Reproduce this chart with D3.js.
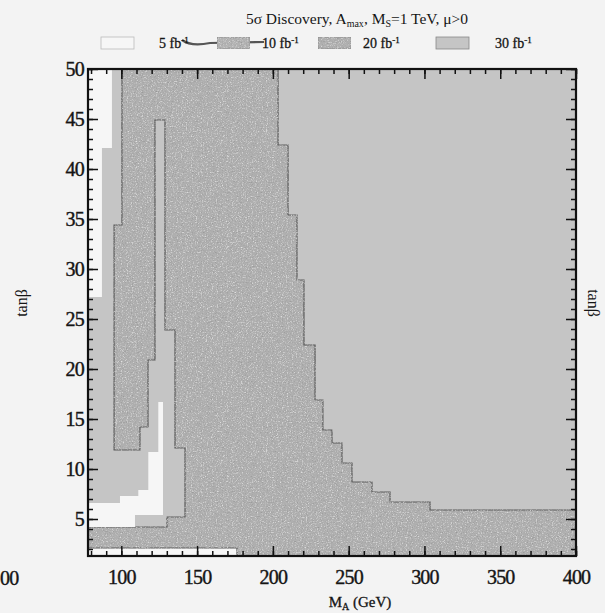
<!DOCTYPE html>
<html>
<head>
<meta charset="utf-8">
<script src="https://cdn.jsdelivr.net/npm/d3@7"></script>
<style>
  body { margin: 0; background: #f3f3f3; }
  svg { display: block; }
  text { font-family: "Liberation Serif", "DejaVu Serif", serif; fill: #151515; }
</style>
</head>
<body>
<div id="chart"></div>
<script>
// axis ranges and ticks
const xDomain = [78, 400];
const yDomain = [1.3, 50];
const xMajor = [100, 150, 200, 250, 300, 350, 400];
const yMajor = [5, 10, 15, 20, 25, 30, 35, 40, 45, 50];

// legend
const lumiLabels = ["5", "10", "20", "30"];
const lumiFill = ["#f6f6f6", "#b2b2b2", "#afafaf", "#c5c5c5"];

// discovery regions, [M_A (GeV), tanβ] outlines
const reach30 = [[78, 27.2], [87.2, 27.2], [87.2, 42.1], [93.8, 42.1], [93.8, 50], [400, 50],
  [400, 1.3], [176.3, 1.3], [176.3, 2.1], [78, 2.1]];

const reach20 = [[100.4, 50], [203.4, 50], [203.4, 42.4], [210, 42.4], [210, 35.4], [215.9, 35.4],
  [215.9, 28.9], [220.5, 28.9], [220.5, 22.4], [227.8, 22.4], [227.8, 16.9], [233, 16.9],
  [233, 13.9], [239, 13.9], [239, 12.6], [245.6, 12.6], [245.6, 10.6], [252.2, 10.6],
  [252.2, 8.7], [265.4, 8.7], [265.4, 7.7], [277.3, 7.7], [277.3, 6.7], [303.7, 6.7],
  [303.7, 5.9], [400, 5.9], [400, 1.3], [176.3, 1.3], [176.3, 2.1], [78, 2.1], [78, 4.2],
  [130.1, 4.2], [130.1, 5.2], [142, 5.2], [142, 12.1], [135.4, 12.1], [135.4, 23.9],
  [128.8, 23.9], [128.8, 44.9], [122.2, 44.9], [122.2, 20.9], [117.6, 20.9], [117.6, 14.2],
  [112.3, 14.2], [112.3, 11.9], [95.2, 11.9], [95.2, 34.4], [100.4, 34.4]];

const reach5 = [[124.4, 16.7], [127.5, 16.7], [127.5, 5.4], [109, 5.4], [109, 4.2], [78, 4.2],
  [78, 6.6], [99.1, 6.6], [99.1, 7.3], [111.2, 7.3], [111.2, 7.9], [117.8, 7.9],
  [117.8, 11.7], [124.4, 11.7]];

const width = 605, height = 613;
const mLeft = 88, mRight = 576, mTop = 69, mBottom = 556;

const svg = d3.select("#chart").append("svg")
  .attr("width", width)
  .attr("height", height);

// speckle texture for the stippled fills
const defs = svg.append("defs");
const grain = defs.append("filter").attr("id", "grain")
  .attr("x", 0).attr("y", 0).attr("width", 1).attr("height", 1);
grain.append("feTurbulence").attr("type", "fractalNoise")
  .attr("baseFrequency", 0.8).attr("numOctaves", 2).attr("seed", 7).attr("result", "noise");
grain.append("feColorMatrix").attr("in", "noise").attr("type", "matrix")
  .attr("values", "0 0 0 0 0.3  0 0 0 0 0.3  0 0 0 0 0.3  -2.4 0 0 0 1.15")
  .attr("result", "dots");
grain.append("feColorMatrix").attr("in", "noise").attr("type", "matrix")
  .attr("values", "0 0 0 0 0.85  0 0 0 0 0.85  0 0 0 0 0.85  0 2.2 0 0 -1.15")
  .attr("result", "lights");
grain.append("feComposite").attr("in", "dots").attr("in2", "SourceGraphic")
  .attr("operator", "in").attr("result", "dotsIn");
grain.append("feComposite").attr("in", "lights").attr("in2", "SourceGraphic")
  .attr("operator", "in").attr("result", "lightsIn");
const merge = grain.append("feMerge");
merge.append("feMergeNode").attr("in", "SourceGraphic");
merge.append("feMergeNode").attr("in", "lightsIn");
merge.append("feMergeNode").attr("in", "dotsIn");

const x = d3.scaleLinear().domain(xDomain).range([mLeft, mRight]);
const y = d3.scaleLinear().domain(yDomain).range([mBottom, mTop]);

const outline = d3.line().x(d => x(d[0])).y(d => y(d[1]));

// plot background
svg.append("rect")
  .attr("x", mLeft).attr("y", mTop)
  .attr("width", mRight - mLeft).attr("height", mBottom - mTop)
  .attr("fill", "#f6f6f6");

svg.append("path")
  .attr("d", outline(reach30) + "Z")
  .attr("fill", lumiFill[3]);

svg.append("path")
  .attr("d", outline(reach20) + "Z")
  .attr("fill", lumiFill[2])
  .attr("stroke", "#5a5a5a")
  .attr("stroke-width", 1.2)
  .attr("filter", "url(#grain)");

svg.append("path")
  .attr("d", outline(reach5) + "Z")
  .attr("fill", lumiFill[0]);

// axes, ticks pointing inward
const g = svg.append("g");
function styleAxis(sel) {
  sel.select(".domain").remove();
  sel.selectAll(".tick line").attr("stroke", "#111").attr("stroke-width", 1.5);
}
function styleLabels(sel) {
  sel.selectAll("text").attr("font-size", 20).attr("letter-spacing", -0.8)
    .attr("font-family", "Liberation Serif").attr("fill", "#151515")
    .attr("stroke", "#151515").attr("stroke-width", 0.4);
}
g.append("g").attr("transform", `translate(0,${mBottom})`)
  .call(d3.axisBottom(x).tickValues(d3.range(80, 401, 10)).tickSize(-5).tickFormat(""))
  .call(styleAxis);
g.append("g").attr("transform", `translate(0,${mBottom})`)
  .call(d3.axisBottom(x).tickValues(xMajor).tickSize(-10).tickPadding(14))
  .call(styleAxis)
  .call(styleLabels);
g.append("g").attr("transform", `translate(0,${mTop})`)
  .call(d3.axisTop(x).tickValues(d3.range(80, 401, 10)).tickSize(-5).tickFormat(""))
  .call(styleAxis);
g.append("g").attr("transform", `translate(0,${mTop})`)
  .call(d3.axisTop(x).tickValues(xMajor).tickSize(-10).tickFormat(""))
  .call(styleAxis);
g.append("g").attr("transform", `translate(${mLeft},0)`)
  .call(d3.axisLeft(y).tickValues(d3.range(2, 51, 1)).tickSize(-5).tickFormat(""))
  .call(styleAxis);
g.append("g").attr("transform", `translate(${mLeft},0)`)
  .call(d3.axisLeft(y).tickValues(yMajor).tickSize(-10).tickPadding(4))
  .call(styleAxis)
  .call(styleLabels);
g.append("g").attr("transform", `translate(${mRight},0)`)
  .call(d3.axisRight(y).tickValues(d3.range(2, 51, 1)).tickSize(-5).tickFormat(""))
  .call(styleAxis);
g.append("g").attr("transform", `translate(${mRight},0)`)
  .call(d3.axisRight(y).tickValues(yMajor).tickSize(-10).tickFormat(""))
  .call(styleAxis);

svg.append("rect")
  .attr("x", mLeft).attr("y", mTop)
  .attr("width", mRight - mLeft).attr("height", mBottom - mTop)
  .attr("fill", "none").attr("stroke", "#111").attr("stroke-width", 2.2);

// title
const title = svg.append("text").attr("x", 357).attr("y", 24)
  .attr("text-anchor", "middle").attr("font-size", 15.5);
title.append("tspan").text("5σ Discovery, A");
title.append("tspan").attr("font-size", 10).attr("dy", 3).text("max");
title.append("tspan").attr("dy", -3).text(", M");
title.append("tspan").attr("font-size", 10).attr("dy", 3).text("S");
title.append("tspan").attr("dy", -3).text("=1 TeV, μ>0");

// legend
const boxX = [101, 217, 318, 436];
const labelX = [159, 262, 363, 495];
svg.append("path")
  .attr("d", "M182,40 C190,46 200,45 210,43 L264,42")
  .attr("fill", "none").attr("stroke", "#555").attr("stroke-width", 2.2);
lumiLabels.forEach((lab, i) => {
  svg.append("rect")
    .attr("x", boxX[i]).attr("y", 37).attr("width", 33).attr("height", 12)
    .attr("fill", lumiFill[i])
    .attr("stroke", i === 0 ? "#bbb" : "#888").attr("stroke-width", 0.8)
    .attr("filter", (i === 1 || i === 2) ? "url(#grain)" : null);
  const t = svg.append("text").attr("x", labelX[i]).attr("y", 48).attr("font-size", 14)
    .attr("stroke", "#151515").attr("stroke-width", 0.3);
  t.append("tspan").text(lab + " fb");
  t.append("tspan").attr("font-size", 9).attr("dy", -5).text("-1");
});

// axis titles
const xt = svg.append("text").attr("x", 360).attr("y", 607)
  .attr("text-anchor", "middle").attr("font-size", 15)
  .attr("stroke", "#151515").attr("stroke-width", 0.3);
xt.append("tspan").text("M");
xt.append("tspan").attr("font-size", 10).attr("dy", 3).text("A");
xt.append("tspan").attr("dy", -3).text(" (GeV)");

svg.append("text")
  .attr("transform", "translate(27,303) rotate(-90)")
  .attr("text-anchor", "middle").attr("font-size", 16).text("tanβ");
svg.append("text")
  .attr("transform", "translate(588,303) rotate(90)")
  .attr("text-anchor", "middle").attr("font-size", 16).text("tanβ");

// edge of the neighbouring panel
svg.append("text").attr("x", 0).attr("y", 585)
  .attr("font-size", 20).attr("letter-spacing", -0.8)
  .attr("stroke", "#151515").attr("stroke-width", 0.4).text("00");
</script>
</body>
</html>
